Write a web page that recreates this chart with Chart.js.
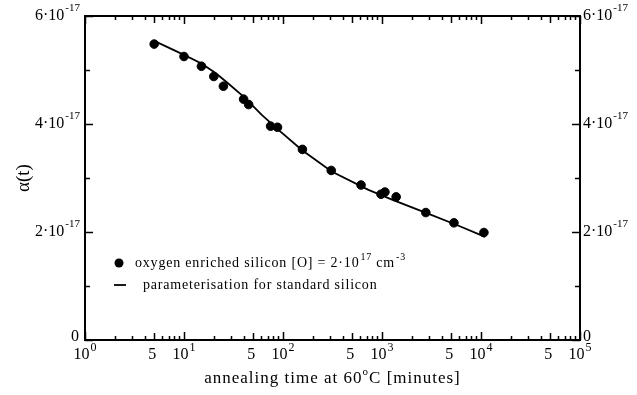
<!DOCTYPE html>
<html>
<head>
<meta charset="utf-8">
<script src="https://cdn.jsdelivr.net/npm/chart.js@4.4.1/dist/chart.umd.min.js"></script>
<style>
  body { margin: 0; background: #fff; }
  canvas { display: block; }
</style>
</head>
<body>
<canvas id="alphaChart" width="637" height="395"></canvas>
<script>
// measured points: oxygen enriched silicon
const annealTime = [5, 10, 15, 20, 25, 40, 45, 75, 88, 157, 307, 614, 977, 1070, 1390, 2770, 5330, 10700];
const alphaOxygen = [5.48e-17, 5.25e-17, 5.07e-17, 4.88e-17, 4.70e-17, 4.46e-17, 4.36e-17, 3.96e-17, 3.94e-17,
    3.53e-17, 3.14e-17, 2.87e-17, 2.70e-17, 2.74e-17, 2.65e-17, 2.36e-17, 2.17e-17, 1.99e-17];

// parameterisation curve for standard silicon
const paramTime = [5, 10, 15, 21, 28, 41, 61, 90, 155, 310, 730, 1300, 2830, 5700, 11000];
const alphaParam = [5.54e-17, 5.28e-17, 5.12e-17, 4.94e-17, 4.75e-17, 4.49e-17, 4.17e-17, 3.89e-17, 3.52e-17,
    3.12e-17, 2.78e-17, 2.59e-17, 2.35e-17, 2.13e-17, 1.91e-17];

// tick labels
const yTicks = [0, 2e-17, 4e-17, 6e-17];
const yTickMantissa = ['0', '2', '4', '6'];
const yMinorTicks = [1e-17, 3e-17, 5e-17];
const xDecades = [1, 10, 100, 1000, 10000, 100000];
const xDecadeExp = ['0', '1', '2', '3', '4', '5'];

const FONT = '"Liberation Serif", "Times New Roman", serif';

function drawSup(ctx, base, sup, x, y, size, align, supSize, rise) {
    supSize = supSize || Math.round(size * 0.7);
    rise = rise || size * 0.45;
    ctx.font = size + 'px ' + FONT;
    const wb = ctx.measureText(base).width;
    ctx.font = supSize + 'px ' + FONT;
    const ws = ctx.measureText(sup).width;
    const total = wb + ws + 1;
    let x0 = x;
    if (align === 'right') x0 = x - total;
    else if (align === 'center') x0 = x - total / 2;
    ctx.textAlign = 'left';
    ctx.textBaseline = 'middle';
    ctx.font = size + 'px ' + FONT;
    ctx.fillText(base, x0, y);
    ctx.font = supSize + 'px ' + FONT;
    ctx.fillText(sup, x0 + wb + 1, y - rise);
    return x0 + total;
}

const framePlugin = {
    id: 'frame',
    afterDraw(chart) {
        const ctx = chart.ctx;
        const area = chart.chartArea;
        const xs = chart.scales.x;
        const ys = chart.scales.y;
        ctx.save();
        ctx.strokeStyle = '#000';
        ctx.fillStyle = '#000';
        ctx.lineWidth = 2;
        ctx.strokeRect(area.left, area.top, area.right - area.left, area.bottom - area.top);

        // x ticks (inside, top and bottom)
        ctx.lineWidth = 1.5;
        ctx.beginPath();
        for (let d = 0; d < xDecades.length; d++) {
            for (let m = 1; m <= 9; m++) {
                const v = xDecades[d] * m;
                if (v > 100000) break;
                const px = Math.round(xs.getPixelForValue(v)) + 0.5;
                const len = m === 1 ? 8 : (m === 5 ? 7 : 4);
                ctx.moveTo(px, area.bottom);
                ctx.lineTo(px, area.bottom - len);
                ctx.moveTo(px, area.top);
                ctx.lineTo(px, area.top + len);
            }
        }
        // y ticks (inside, left and right)
        yTicks.forEach(v => {
            const py = Math.round(ys.getPixelForValue(v)) + 0.5;
            ctx.moveTo(area.left, py); ctx.lineTo(area.left + 8, py);
            ctx.moveTo(area.right, py); ctx.lineTo(area.right - 8, py);
        });
        yMinorTicks.forEach(v => {
            const py = Math.round(ys.getPixelForValue(v)) + 0.5;
            ctx.moveTo(area.left, py); ctx.lineTo(area.left + 5, py);
            ctx.moveTo(area.right, py); ctx.lineTo(area.right - 5, py);
        });
        ctx.stroke();

        // y labels
        yTicks.forEach((v, i) => {
            const py = ys.getPixelForValue(v);
            if (v === 0) {
                ctx.font = '16px ' + FONT;
                ctx.textBaseline = 'middle';
                ctx.textAlign = 'right';
                ctx.fillText('0', area.left - 6, py - 3);
                ctx.textAlign = 'left';
                ctx.fillText('0', area.right + 3, py - 3);
            } else {
                drawSup(ctx, yTickMantissa[i] + '\u00b710', '-17', area.left - 5, py, 16, 'right', 11, 8);
                drawSup(ctx, yTickMantissa[i] + '\u00b710', '-17', area.right + 3, py, 16, 'left', 11, 8);
            }
        });

        // x labels
        const ly = area.bottom + 15;
        xDecades.forEach((v, i) => {
            const px = xs.getPixelForValue(v);
            drawSup(ctx, '10', xDecadeExp[i], px, ly, 16, 'center', 12, 7);
            if (v < 100000) {
                ctx.font = '16px ' + FONT;
                ctx.textAlign = 'center';
                ctx.textBaseline = 'middle';
                ctx.fillText('5', xs.getPixelForValue(v * 5) - 2, ly);
            }
        });

        // axis titles
        ctx.font = '17px ' + FONT;
        ctx.letterSpacing = '1px';
        const t1 = 'annealing time at 60';
        const t2 = 'C [minutes]';
        const w1 = ctx.measureText(t1).width;
        ctx.font = '11px ' + FONT;
        const wo = ctx.measureText('o').width;
        ctx.font = '17px ' + FONT;
        const w2 = ctx.measureText(t2).width;
        const cx = (area.left + area.right) / 2;
        let tx = cx - (w1 + wo + w2) / 2;
        ctx.textAlign = 'left';
        ctx.textBaseline = 'middle';
        ctx.fillText(t1, tx, 379);
        ctx.font = '11px ' + FONT;
        ctx.fillText('o', tx + w1, 372);
        ctx.font = '17px ' + FONT;
        ctx.fillText(t2, tx + w1 + wo, 379);

        ctx.letterSpacing = '0px';
        ctx.save();
        ctx.translate(24, (area.top + area.bottom) / 2);
        ctx.rotate(-Math.PI / 2);
        ctx.font = '19px ' + FONT;
        ctx.textAlign = 'center';
        ctx.textBaseline = 'middle';
        ctx.fillText('\u03b1(t)', 0, 0);
        ctx.restore();

        // legend
        ctx.beginPath();
        ctx.arc(119, 263, 4.5, 0, Math.PI * 2);
        ctx.fill();
        ctx.lineWidth = 1.8;
        ctx.beginPath();
        ctx.moveTo(114, 285);
        ctx.lineTo(126, 285);
        ctx.stroke();
        ctx.letterSpacing = '0.8px';
        let ex = drawSup(ctx, 'oxygen enriched silicon [O] = 2\u00b710', '17', 135, 263, 14, 'left', 10, 6);
        drawSup(ctx, ' cm', '-3', ex, 263, 14, 'left', 10, 6);
        ctx.font = '14px ' + FONT;
        ctx.textAlign = 'left';
        ctx.textBaseline = 'middle';
        ctx.fillText('parameterisation for standard silicon', 143, 285);
        ctx.letterSpacing = '0px';
        ctx.restore();
    }
};

new Chart(document.getElementById('alphaChart'), {
    type: 'scatter',
    data: {
        datasets: [
            {
                label: 'oxygen enriched silicon',
                data: annealTime.map((t, i) => ({x: t, y: alphaOxygen[i]})),
                backgroundColor: '#000',
                borderColor: '#000',
                pointRadius: 4.3,
                showLine: false
            },
            {
                label: 'parameterisation for standard silicon',
                data: paramTime.map((t, i) => ({x: t, y: alphaParam[i]})),
                borderColor: '#000',
                borderWidth: 1.8,
                pointRadius: 0,
                showLine: true,
                tension: 0
            }
        ]
    },
    options: {
        responsive: false,
        animation: false,
        layout: { padding: { left: 85, right: 57, top: 16, bottom: 55 } },
        plugins: { legend: { display: false }, tooltip: { enabled: false } },
        scales: {
            x: { type: 'logarithmic', min: 1, max: 100000, display: false },
            y: { type: 'linear', min: 0, max: 6e-17, display: false }
        }
    },
    plugins: [framePlugin]
});
</script>
</body>
</html>
